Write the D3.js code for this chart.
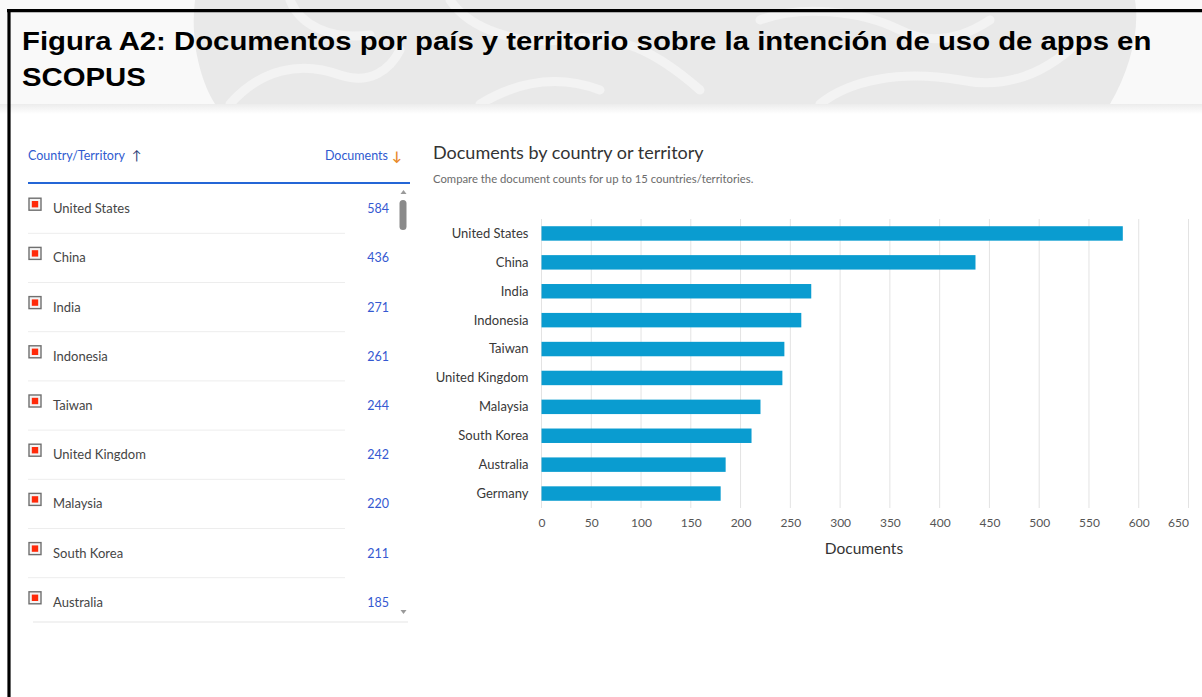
<!DOCTYPE html>
<html>
<head>
<meta charset="utf-8">
<script src="https://cdn.jsdelivr.net/npm/d3@7/dist/d3.min.js"></script>
<style>
  html, body { margin: 0; padding: 0; background: #fff; }
  svg { display: block; }
  .ui { font-family: Lato, "Open Sans", sans-serif; }
</style>
</head>
<body>
<svg id="fig" width="1202" height="697"></svg>
<script>
// Documents per country/territory (Scopus export)
const countries = ["United States", "China", "India", "Indonesia", "Taiwan",
                   "United Kingdom", "Malaysia", "South Korea", "Australia", "Germany"];
const documents = [584, 436, 271, 261, 244, 242, 220, 211, 185, 180];
const xTicks = [0, 50, 100, 150, 200, 250, 300, 350, 400, 450, 500, 550, 600, 650];
const tableRows = 9; // rows visible in the scrollable list

const titleLines = ["Figura A2: Documentos por país y territorio sobre la intención de uso de apps en",
                    "SCOPUS"];

const svg = d3.select("#fig");
const W = 1202, H = 697;

// ---------- header band with faint watermark ----------
const defs = svg.append("defs");
const shade = defs.append("linearGradient").attr("id", "panelShade")
  .attr("x1", 0).attr("y1", 0).attr("x2", 0).attr("y2", 1);
shade.append("stop").attr("offset", "0%").attr("stop-color", "#ececec");
shade.append("stop").attr("offset", "100%").attr("stop-color", "#ffffff");

svg.append("rect").attr("x", 0).attr("y", 0).attr("width", W).attr("height", 104).attr("fill", "#f9f9f9");
const wm = svg.append("g");
wm.append("path")
  .attr("d", "M195,0 C190,40 200,80 215,104 L1110,104 C1130,70 1140,30 1135,0 Z")
  .attr("fill", "#e9e9e9");
const swirl = [
  "M230,104 C260,70 300,60 340,75 C370,85 390,70 400,50",
  "M450,0 C470,30 520,45 560,40 C620,30 660,55 700,90",
  "M480,104 C520,80 560,75 600,90",
  "M760,20 C800,5 860,10 900,30 C930,45 960,40 990,20",
  "M820,104 C850,80 900,70 960,80 C1010,90 1050,70 1080,40",
  "M290,0 C300,25 330,40 370,35"
];
wm.selectAll("path.swirl").data(swirl).join("path")
  .attr("class", "swirl")
  .attr("d", d => d)
  .attr("fill", "none")
  .attr("stroke", "#f3f3f3")
  .attr("stroke-width", 9)
  .attr("stroke-linecap", "round");

// white content panel
svg.append("rect").attr("x", 0).attr("y", 104).attr("width", W).attr("height", H - 104).attr("fill", "#fff");
svg.append("rect").attr("x", 0).attr("y", 104).attr("width", W).attr("height", 10).attr("fill", "url(#panelShade)");

// frame
svg.append("line").attr("x1", 7).attr("x2", W).attr("y1", 10.7).attr("y2", 10.7)
  .attr("stroke", "#000").attr("stroke-width", 3.2);
svg.append("line").attr("x1", 9).attr("x2", 9).attr("y1", 9).attr("y2", H)
  .attr("stroke", "#000").attr("stroke-width", 3.2);

// figure title (wide bold face)
svg.append("g").attr("transform", "translate(22,0) scale(1.15,1)")
  .selectAll("text").data(titleLines).join("text")
  .attr("x", 0)
  .attr("y", (d, i) => 50.5 + i * 36)
  .attr("font-family", "'Liberation Sans', Arial, sans-serif")
  .attr("font-weight", "bold")
  .attr("font-size", 25.5)
  .attr("fill", "#000")
  .text(d => d);

// ---------- left list ----------
const list = svg.append("g").attr("class", "ui");
list.append("text").attr("x", 28).attr("y", 160).attr("font-size", 12.5).attr("fill", "#2f5bd0")
  .text("Country/Territory");
list.append("text").attr("x", 132).attr("y", 160).attr("font-size", 13).attr("fill", "#2f3f7a")
  .text("↑");
list.append("text").attr("x", 388).attr("y", 160).attr("text-anchor", "end").attr("font-size", 12.5)
  .attr("fill", "#2f5bd0").text("Documents");
list.append("text").attr("x", 397).attr("y", 161).attr("text-anchor", "middle").attr("font-size", 13)
  .attr("font-weight", "bold").attr("fill", "#e8892a").text("↓");
list.append("line").attr("x1", 28).attr("x2", 410).attr("y1", 183).attr("y2", 183)
  .attr("stroke", "#2466d6").attr("stroke-width", 2);

const rowY = d3.scaleLinear().domain([0, 1]).range([208.7, 257.9]);
const rows = list.selectAll("g.row").data(countries.slice(0, tableRows)).join("g")
  .attr("class", "row")
  .attr("transform", (d, i) => `translate(0,${rowY(i)})`);
rows.append("rect").attr("x", 29).attr("y", -10.5).attr("width", 12).attr("height", 12)
  .attr("fill", "#f4f4f4").attr("stroke", "#6f6f6f").attr("stroke-width", 1.4);
rows.append("rect").attr("x", 31.8).attr("y", -7.7).attr("width", 6.4).attr("height", 6.4)
  .attr("fill", "#ff2a0a");
rows.append("text").attr("x", 53).attr("y", 4.5).attr("font-size", 13).attr("fill", "#454545")
  .text(d => d);
rows.append("text").attr("x", 389).attr("y", 4.5).attr("text-anchor", "end").attr("font-size", 12.5)
  .attr("fill", "#3559d1").text((d, i) => documents[i]);
rows.filter((d, i) => i < tableRows - 1).append("line")
  .attr("x1", 28).attr("x2", 345).attr("y1", 24.6).attr("y2", 24.6)
  .attr("stroke", "#ededed").attr("stroke-width", 1);
list.append("line").attr("x1", 33).attr("x2", 408).attr("y1", 622).attr("y2", 622)
  .attr("stroke", "#e6e6e6").attr("stroke-width", 1.2);

// scrollbar
list.append("path").attr("d", "M400.5,194 L403.5,190 L406.5,194 Z").attr("fill", "#9a9a9a");
list.append("rect").attr("x", 399.5).attr("y", 200).attr("width", 7).attr("height", 30).attr("rx", 3.5)
  .attr("fill", "#8a8a8a");
list.append("path").attr("d", "M400.5,610 L406.5,610 L403.5,614 Z").attr("fill", "#9a9a9a");

// ---------- bar chart ----------
const chart = svg.append("g").attr("class", "ui");
chart.append("text").attr("x", 433).attr("y", 159).attr("font-size", 18).attr("fill", "#333")
  .text("Documents by country or territory");
chart.append("text").attr("x", 433).attr("y", 183).attr("font-size", 11.3).attr("fill", "#6b6b6b")
  .text("Compare the document counts for up to 15 countries/territories.");

const x = d3.scaleLinear().domain([0, 650]).range([541.5, 1188.5]);
const y = d3.scaleBand().domain(countries).range([219, 508]).paddingInner(0.5).paddingOuter(0.25);

// vertical gridlines
chart.append("g").selectAll("line").data(xTicks).join("line")
  .attr("x1", d => x(d)).attr("x2", d => x(d))
  .attr("y1", y.range()[0]).attr("y2", y.range()[1])
  .attr("stroke", "#e3e3e3").attr("stroke-width", 1);

// bars
chart.append("g").selectAll("rect").data(countries).join("rect")
  .attr("x", x(0))
  .attr("y", d => y(d))
  .attr("width", (d, i) => x(documents[i]) - x(0))
  .attr("height", y.bandwidth())
  .attr("fill", "#0a9cd0");

// category axis
const yAxis = chart.append("g")
  .attr("transform", `translate(${x(0) - 13},0)`)
  .call(d3.axisLeft(y).tickSize(0).tickPadding(0));
yAxis.select(".domain").remove();
yAxis.selectAll("text").attr("font-family", "Lato, 'Open Sans', sans-serif")
  .attr("font-size", 13).attr("fill", "#383838").attr("dy", "0.34em");

// value axis
const xAxis = chart.append("g")
  .attr("transform", `translate(0,${y.range()[1]})`)
  .call(d3.axisBottom(x).tickValues(xTicks).tickSize(0).tickPadding(10));
xAxis.select(".domain").remove();
xAxis.selectAll("text").attr("font-family", "Lato, 'Open Sans', sans-serif")
  .attr("font-size", 12).attr("fill", "#555");
xAxis.selectAll(".tick").filter(d => d === xTicks[xTicks.length - 1]).select("text")
  .attr("text-anchor", "end");

chart.append("text").attr("x", 864).attr("y", 554).attr("text-anchor", "middle")
  .attr("font-size", 15.5).attr("fill", "#333").text("Documents");
</script>
</body>
</html>
